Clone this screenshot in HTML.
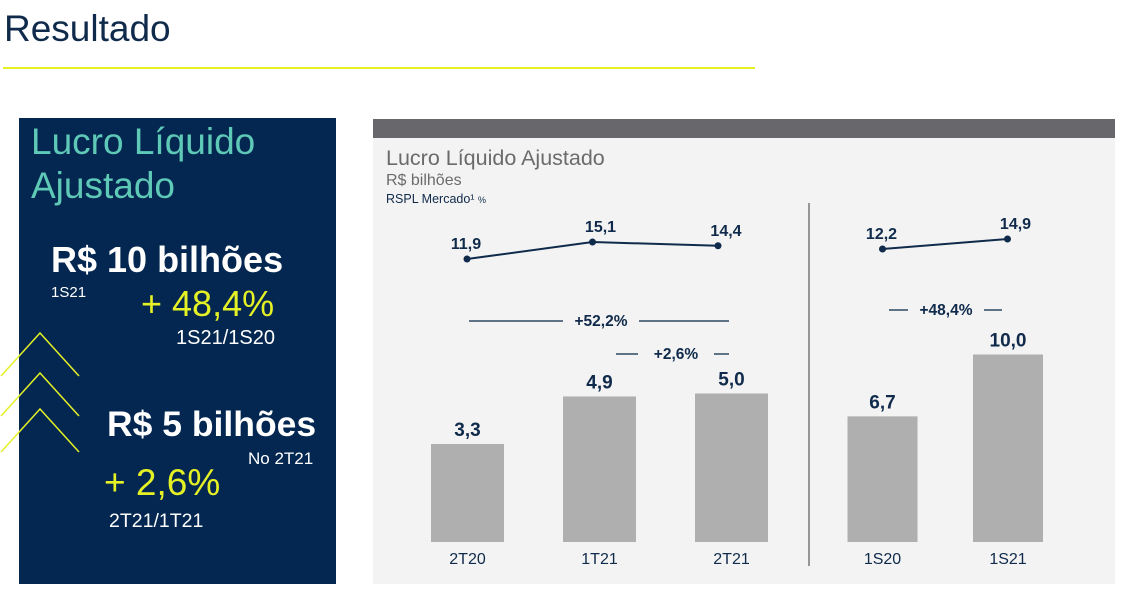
<!DOCTYPE html>
<html><head><meta charset="utf-8"><style>
body{margin:0;width:1121px;height:601px;background:#fff;position:relative;overflow:hidden;font-family:"Liberation Sans",sans-serif}
.a{position:absolute;white-space:nowrap}
</style></head><body>
<div class="a" style="left:4px;top:8px;font-size:37px;color:#0f2a4a">Resultado</div>
<div class="a" style="left:3px;top:67px;width:752px;height:2px;background:#e5f025"></div>
<div class="a" style="left:19px;top:118px;width:317px;height:466px;background:#032750"></div>
<div class="a" style="left:31px;top:120px;font-size:37px;line-height:44px;color:#5fc9b8">Lucro Líquido<br>Ajustado</div>
<div class="a" style="left:51px;top:239px;font-size:36px;font-weight:bold;color:#fff">R$ 10 bilhões</div>
<div class="a" style="left:51px;top:284px;font-size:15px;color:#fff">1S21</div>
<div class="a" style="left:141px;top:283px;font-size:36px;color:#e5f025">+ 48,4%</div>
<div class="a" style="left:176px;top:327px;font-size:20px;color:#fff">1S21/1S20</div>
<svg class="a" style="left:0;top:330px" width="90" height="130"><g fill="none" stroke="#e5f025" stroke-width="1.5"><polyline points="1,46 40,3 79,46"/><polyline points="1,86 40,43 79,86"/><polyline points="1,122 40,79 79,122"/></g></svg>
<div class="a" style="left:107px;top:404px;font-size:35.5px;font-weight:bold;color:#fff">R$ 5 bilhões</div>
<div class="a" style="left:248px;top:449px;font-size:17px;color:#fff">No 2T21</div>
<div class="a" style="left:104px;top:462px;font-size:37px;color:#e5f025">+ 2,6%</div>
<div class="a" style="left:109px;top:510px;font-size:19.5px;color:#fff">2T21/1T21</div>
<div class="a" style="left:373px;top:119px;width:742px;height:465px;background:#f3f3f3"></div>
<div class="a" style="left:373px;top:119px;width:742px;height:19px;background:#68676c"></div>
<div class="a" style="left:386px;top:146px;font-size:21.5px;color:#6b6b6b">Lucro Líquido Ajustado</div>
<div class="a" style="left:386px;top:172px;font-size:16px;color:#6b6b6b">R$ bilhões</div>
<div class="a" style="left:386px;top:192px;font-size:12.5px;color:#0f2a4a">RSPL Mercado¹ <span style="font-size:9px">%</span></div>
<svg class="a" id="ch" style="left:0;top:0" width="1121" height="601"></svg>
<script>
const catsQ=["2T20","1T21","2T21"];
const barsQ=[3.3,4.9,5.0];
const roeQ=[11.9,15.1,14.4];
const catsS=["1S20","1S21"];
const barsS=[6.7,10.0];
const roeS=[12.2,14.9];
const growthLabels=["+52,2%","+2,6%","+48,4%"];
const svg=document.getElementById('ch');const NS="http://www.w3.org/2000/svg";
function mk(t,a,txt){const e=document.createElementNS(NS,t);for(const k in a)e.setAttribute(k,a[k]);if(txt!=null)e.textContent=txt;svg.appendChild(e);return e;}
const base=542;
function group(cats,bars,roe,x0,step,lx0,lstep,w,bs,ly0,lv0,ls,nm){
 const pts=[];
 cats.forEach((c,i)=>{const cx=x0+i*step;const h=bars[i]*bs;
  const r=mk('rect',{x:cx-w/2,y:base-h,width:w,height:h,fill:'#afafaf'});
  
  const v=mk('text',{x:cx,y:base-h-8,'text-anchor':'middle','font-size':19,'font-weight':'bold',fill:'#0f2a4a'},bars[i].toFixed(1).replace('.',','));
  
  const l=mk('text',{x:cx,y:564,'text-anchor':'middle','font-size':16,fill:'#0f2a4a'},c);
  
  const py=ly0-(roe[i]-lv0)*ls;pts.push((lx0+i*lstep)+','+py);
 });
 const pl=mk('polyline',{points:pts.join(' '),fill:'none',stroke:'#0f2a4a','stroke-width':2});
 
 cats.forEach((c,i)=>{const cx=lx0+i*lstep;const py=ly0-(roe[i]-lv0)*ls;
  const d=mk('circle',{cx:cx,cy:py,r:3.5,fill:'#0f2a4a'});
  
  const t=mk('text',{x:cx+(i==0?-1:8),y:py-10,'text-anchor':'middle','font-size':16,'font-weight':'bold',fill:'#0f2a4a'},roe[i].toFixed(1).replace('.',','));
  
 });
}
group(catsQ,barsQ,roeQ,467.5,132,467,125.5,73,29.7,259,11.9,5.3,'quarterly');
group(catsS,barsS,roeS,882.5,125.5,882.5,125,70,18.75,249,12.2,3.7,'semester');
const dv=mk('line',{x1:809,y1:203,x2:809,y2:566,stroke:'#777','stroke-width':1.5});

function gl(x1,x2,tx,y,lbl,nm){
 const g=mk('g',{});
 const l1=mk('line',{x1:x1,y1:y,x2:tx-38,y2:y,stroke:'#2c4a63','stroke-width':1.5});
 const l2=mk('line',{x1:tx+38,y1:y,x2:x2,y2:y,stroke:'#2c4a63','stroke-width':1.5});
 const t=mk('text',{x:tx,y:y+5,'text-anchor':'middle','font-size':15.5,'font-weight':'bold',fill:'#0f2a4a'},lbl);
 g.appendChild(l1);g.appendChild(l2);g.appendChild(t);
}
gl(469,729,601,321,growthLabels[0],'growth-2t21-2t20');
gl(616,729,676,354,growthLabels[1],'growth-2t21-1t21');
gl(889,1002,946,310,growthLabels[2],'growth-1s21-1s20');
</script>
</body></html>
